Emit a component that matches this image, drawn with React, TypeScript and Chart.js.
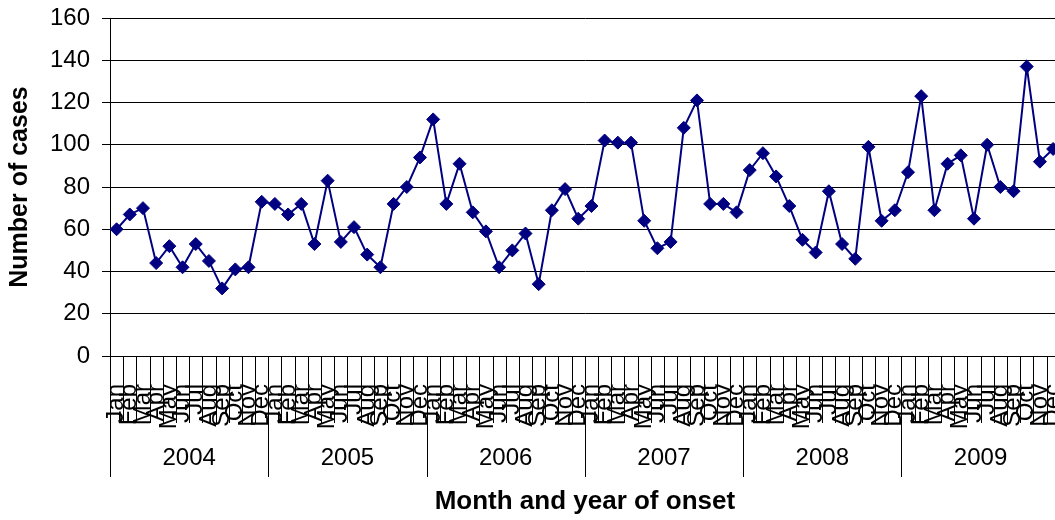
import React, { useEffect, useRef } from "react";
import { Chart, registerables } from "chart.js";

Chart.register(...registerables);

const years = ["2004", "2005", "2006", "2007", "2008", "2009"];
const months = ["Jan", "Feb", "Mar", "Apr", "May", "Jun", "Jul", "Aug", "Sep", "Oct", "Nov", "Dec"];

const cases2004 = [60, 67, 70, 44, 52, 42, 53, 45, 32, 41, 42, 73];
const cases2005 = [72, 67, 72, 53, 83, 54, 61, 48, 42, 72, 80, 94];
const cases2006 = [112, 72, 91, 68, 59, 42, 50, 58, 34, 69, 79, 65];
const cases2007 = [71, 102, 101, 101, 64, 51, 54, 108, 121, 72, 72, 68];
const cases2008 = [88, 96, 85, 71, 55, 49, 78, 53, 46, 99, 64, 69];
const cases2009 = [87, 123, 69, 91, 95, 65, 100, 80, 78, 137, 92, 98];

const yTicks = [0, 20, 40, 60, 80, 100, 120, 140, 160];

const FONT = '"Liberation Sans", Arial, sans-serif';
const NAVY = "#000080";

// Month separators and the year row under the month labels
const yearRowPlugin = {
  id: "yearRow",
  afterDraw(chart: any) {
    const { ctx, chartArea } = chart;
    const xs = chart.scales.x;
    const n = xs.getLabels().length;
    const step = xs.getPixelForValue(1) - xs.getPixelForValue(0);
    const half = step / 2;
    ctx.save();
    ctx.strokeStyle = "#000";
    ctx.lineWidth = 1;
    for (let i = 0; i <= n; i++) {
      const px = Math.round(xs.getPixelForValue(0) - half + i * step) + 0.5;
      const len = i % 12 === 0 ? 121 : 67;
      ctx.beginPath();
      ctx.moveTo(px, chartArea.bottom);
      ctx.lineTo(px, chartArea.bottom + len);
      ctx.stroke();
    }
    ctx.fillStyle = "#000";
    ctx.font = `24px ${FONT}`;
    ctx.textAlign = "center";
    ctx.textBaseline = "middle";
    years.forEach((yr, k) => {
      const a = xs.getPixelForValue(k * 12);
      const b = xs.getPixelForValue(k * 12 + 11);
      ctx.fillText(yr, (a + b) / 2, chartArea.bottom + 102);
    });
    ctx.restore();
  },
};

export default function App() {
  const canvasRef = useRef<HTMLCanvasElement | null>(null);

  useEffect(() => {
    const canvas = canvasRef.current;
    if (!canvas) return;
    const labels: string[] = [];
    years.forEach(() => months.forEach((m) => labels.push(m)));
    const values = [
      ...cases2004,
      ...cases2005,
      ...cases2006,
      ...cases2007,
      ...cases2008,
      ...cases2009,
    ];

    const chart = new Chart(canvas, {
      type: "line",
      data: {
        labels,
        datasets: [
          {
            data: values,
            borderColor: NAVY,
            backgroundColor: NAVY,
            borderWidth: 2,
            tension: 0,
            pointStyle: "rectRot",
            pointRadius: 6.5,
            pointBorderWidth: 1,
            pointBackgroundColor: NAVY,
            pointBorderColor: NAVY,
          },
        ],
      },
      options: {
        responsive: false,
        animation: false,
        layout: { padding: { top: 18, right: 12, bottom: 0, left: 0 } },
        plugins: {
          legend: { display: false },
          tooltip: { enabled: false },
        },
        scales: {
          x: {
            type: "category",
            offset: true,
            grid: { display: false },
            border: { display: true, color: "#000", width: 1 },
            ticks: {
              autoSkip: false,
              minRotation: 90,
              maxRotation: 90,
              padding: 20,
              color: "#000",
              font: { family: FONT, size: 24 },
            },
            title: {
              display: true,
              text: "Month and year of onset",
              color: "#000",
              font: { family: FONT, size: 26, weight: "bold" },
              padding: { top: 0, bottom: 3 },
            },
            afterFit(scale: any) {
              scale.height = 164;
            },
          },
          y: {
            min: 0,
            max: 160,
            afterBuildTicks(scale: any) {
              scale.ticks = yTicks.map((v) => ({ value: v }));
            },
            grid: { color: "#000", lineWidth: 1, tickLength: 8 },
            border: { display: true, color: "#000", width: 1 },
            ticks: {
              padding: 12,
              color: "#000",
              font: { family: FONT, size: 24 },
            },
            title: {
              display: true,
              text: "Number of cases",
              color: "#000",
              font: { family: FONT, size: 25, weight: "bold" },
              padding: { top: 5, bottom: 0 },
            },
            afterFit(scale: any) {
              scale.width = 110;
              scale.paddingTop = 0;
              scale.paddingBottom = 0;
            },
          },
        },
      },
      plugins: [yearRowPlugin],
    });

    return () => chart.destroy();
  }, []);

  return (
    <div
      style={{
        position: "fixed",
        left: 0,
        top: 0,
        width: 1055,
        height: 520,
        overflow: "hidden",
        background: "#fff",
      }}
    >
      <canvas ref={canvasRef} width={1102} height={520} style={{ display: "block" }} />
    </div>
  );
}
